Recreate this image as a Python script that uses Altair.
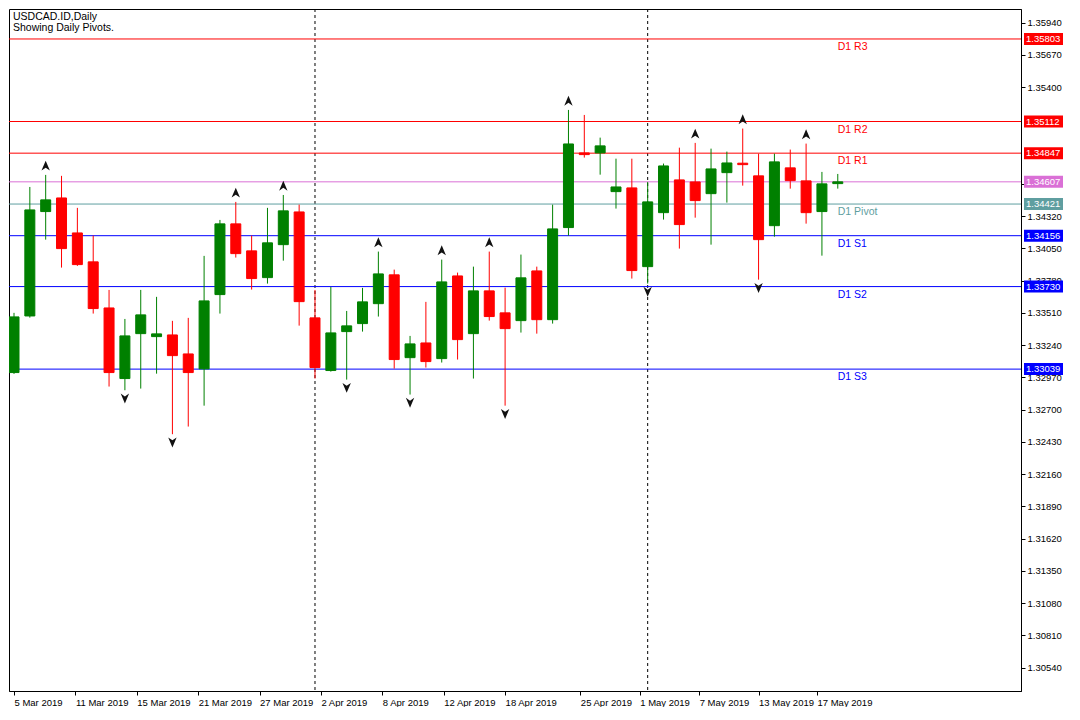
import altair as alt
import pandas as pd

# ---------------- data ----------------
dates = ["2019-03-05", "2019-03-06", "2019-03-07", "2019-03-08", "2019-03-11", "2019-03-12",
         "2019-03-13", "2019-03-14", "2019-03-15", "2019-03-18", "2019-03-19", "2019-03-20",
         "2019-03-21", "2019-03-22", "2019-03-25", "2019-03-26", "2019-03-27", "2019-03-28",
         "2019-03-29", "2019-04-01", "2019-04-02", "2019-04-03", "2019-04-04", "2019-04-05",
         "2019-04-08", "2019-04-09", "2019-04-10", "2019-04-11", "2019-04-12", "2019-04-15",
         "2019-04-16", "2019-04-17", "2019-04-18", "2019-04-22", "2019-04-23", "2019-04-24",
         "2019-04-25", "2019-04-26", "2019-04-29", "2019-04-30", "2019-05-01", "2019-05-02",
         "2019-05-03", "2019-05-06", "2019-05-07", "2019-05-08", "2019-05-09", "2019-05-10",
         "2019-05-13", "2019-05-14", "2019-05-15", "2019-05-16", "2019-05-17"]

opens = [1.33010, 1.33484, 1.34358, 1.34472, 1.34179, 1.33937, 1.33551, 1.32960, 1.33336, 1.33311,
         1.33325, 1.33166, 1.33041, 1.33663, 1.34255, 1.34029, 1.33805, 1.34081, 1.34355, 1.33468,
         1.33027, 1.33353, 1.33420, 1.33587, 1.33828, 1.33135, 1.33258, 1.33127, 1.33819, 1.33336,
         1.33694, 1.33510, 1.33445, 1.33861, 1.33453, 1.34224, 1.34849, 1.34849, 1.34525, 1.34556,
         1.33897, 1.34349, 1.34623, 1.34606, 1.34508, 1.34684, 1.34763, 1.34657, 1.34240, 1.34724,
         1.34615, 1.34358, 1.34592]

highs = [1.33510, 1.34564, 1.34665, 1.34657, 1.34389, 1.34157, 1.33702, 1.33459, 1.33702, 1.33644,
         1.33443, 1.33468, 1.33987, 1.34288, 1.34439, 1.34157, 1.34389, 1.34497, 1.34416, 1.33702,
         1.33727, 1.33526, 1.33719, 1.34023, 1.33872, 1.33317, 1.33602, 1.33956, 1.33847, 1.33897,
         1.34023, 1.33721, 1.33998, 1.33897, 1.34416, 1.35209, 1.35167, 1.34977, 1.34801, 1.34801,
         1.34606, 1.34760, 1.34893, 1.34933, 1.34885, 1.34860, 1.35053, 1.34843, 1.34843, 1.34877,
         1.34927, 1.34690, 1.34673]

lows = [1.32999, 1.33470, 1.34123, 1.33889, 1.33903, 1.33504, 1.32893, 1.32862, 1.32876, 1.33001,
        1.32494, 1.32558, 1.32733, 1.33504, 1.33973, 1.33705, 1.33755, 1.33947, 1.33403, 1.32960,
        1.33018, 1.32951, 1.33353, 1.33479, 1.33043, 1.32826, 1.33052, 1.33094, 1.33119, 1.32960,
        1.33445, 1.32733, 1.33345, 1.33336, 1.33420, 1.34157, 1.34810, 1.34667, 1.34383, 1.33797,
        1.33755, 1.34291, 1.34048, 1.34307, 1.34081, 1.34433, 1.34575, 1.33788, 1.34148, 1.34550,
        1.34257, 1.33989, 1.34550]

closes = [1.33476, 1.34372, 1.34456, 1.34048, 1.33914, 1.33546, 1.33010, 1.33317, 1.33493, 1.33334,
          1.33152, 1.33010, 1.33610, 1.34255, 1.34006, 1.33797, 1.34096, 1.34364, 1.33604, 1.33052,
          1.33342, 1.33401, 1.33602, 1.33836, 1.33119, 1.33250, 1.33102, 1.33769, 1.33286, 1.33694,
          1.33479, 1.33378, 1.33803, 1.33453, 1.34213, 1.34924, 1.34835, 1.34908, 1.34564, 1.33864,
          1.34439, 1.34740, 1.34249, 1.34450, 1.34715, 1.34765, 1.34751, 1.34123, 1.34774, 1.34617,
          1.34349, 1.34590, 1.34607]

# fractal markers (bar indices)
fractal_up = [2, 14, 17, 23, 27, 30, 35, 43, 46, 50]
fractal_down = [7, 10, 21, 25, 31, 40, 47]

# daily pivot levels
pivot_names = ["D1 R3", "D1 R2", "D1 R1", "D1 Pivot", "D1 S1", "D1 S2", "D1 S3"]
pivot_values = [1.35803, 1.35112, 1.34847, 1.34421, 1.34156, 1.33730, 1.33039]
pivot_colors = ["#FF0000", "#FF0000", "#FF0000", "#5F9EA0", "#0000FF", "#0000FF", "#0000FF"]
price_line = 1.34607
price_color = "#DA70D6"

# axis ticks (1.35130 and 1.34860 are fully covered by the level boxes in the original)
y_ticks = [1.30540, 1.30810, 1.31080, 1.31350, 1.31620, 1.31890, 1.32160, 1.32430, 1.32700,
           1.32970, 1.33240, 1.33510, 1.33780, 1.34050, 1.34320, 1.34590,
           1.35400, 1.35670, 1.35940]
x_tick_pos = [0, 3.875, 7.75, 11.625, 15.5, 19.375, 23.25, 27.125, 31.0, 35.75, 39.5, 43.25, 47.0, 50.6875]
x_tick_labels = ["5 Mar 2019", "11 Mar 2019", "15 Mar 2019", "21 Mar 2019", "27 Mar 2019",
                 "2 Apr 2019", "8 Apr 2019", "12 Apr 2019", "18 Apr 2019", "25 Apr 2019",
                 "1 May 2019", "7 May 2019", "13 May 2019", "17 May 2019"]

title_lines = "USDCAD.ID,Daily\nShowing Daily Pivots."

# ---------------- tables ----------------
df = pd.DataFrame({"date": dates, "open": opens, "high": highs, "low": lows, "close": closes})
df["i"] = range(len(df))
df["dir"] = ["up" if c >= o else "down" for o, c in zip(opens, closes)]
df["month"] = [d[:7] for d in dates]
sep = df[(df["month"] != df["month"].shift()) & (df["i"] > 0)]

up_df = df[df["i"].isin(fractal_up)]
dn_df = df[df["i"].isin(fractal_down)]

levels = pd.DataFrame({"name": pivot_names + [""],
                       "value": pivot_values + [price_line],
                       "color": pivot_colors + [price_color]})
levels["label"] = [f"{v:.5f}" for v in levels["value"]]
levels["i"] = len(dates) - 1

# ---------------- chart ----------------
W, H = 1012, 682
FONT = "Liberation Sans"

xs = alt.Scale(domain=[0, W / 16.0], nice=False, zero=False)
ys = alt.Scale(domain=[1.36054 - H / 11944.0, 1.36054], nice=False, zero=False)

pos_list = "[" + ",".join(repr(p) for p in x_tick_pos) + "]"
lab_list = "[" + ",".join("'" + s + "'" for s in x_tick_labels) + "]"
xaxis = alt.Axis(values=x_tick_pos, labelExpr=f"{lab_list}[indexof({pos_list}, datum.value)]",
                 title=None, grid=False, orient="bottom", labelAlign="left", labelBaseline="top",
                 tickSize=4, labelPadding=2, labelFlush=False, labelOverlap=False)
yaxis = alt.Axis(values=y_ticks, format=".5f", title=None, grid=False, orient="right",
                 tickSize=4, labelPadding=2, labelOverlap=False, labelFlush=False)

X = alt.X("i:Q", scale=xs, axis=xaxis)
Y_LEVEL = alt.Y("value:Q", scale=ys, axis=yaxis)
updown = alt.Scale(domain=["up", "down"], range=["#008000", "#FF0000"])
col = alt.Color("dir:N", scale=updown, legend=None)
strk = alt.Stroke("dir:N", scale=updown, legend=None)
lvl_stroke = alt.Stroke("color:N", scale=None, legend=None)
lvl_fill = alt.Fill("color:N", scale=None, legend=None)

lv = alt.Chart(levels)

separators = alt.Chart(sep).mark_rule(color="black", strokeDash=[3, 3], strokeWidth=1).encode(x=X)

level_rules = lv.mark_rule(strokeWidth=1).encode(
    x=alt.value(0), x2=alt.value(W), y=Y_LEVEL, stroke=lvl_stroke)
level_text = lv.mark_text(align="left", baseline="top", dy=3, font=FONT, fontSize=10.5).encode(
    x=X, y=Y_LEVEL, text="name:N", fill=lvl_fill)

wicks = alt.Chart(df).mark_rule(strokeWidth=1, clip=True).encode(
    x=X, y=alt.Y("low:Q", scale=ys, axis=yaxis), y2="high:Q", stroke=strk)
bodies = alt.Chart(df).mark_bar(size=10, strokeWidth=1, clip=True).encode(
    x=X, y=alt.Y("open:Q", scale=ys, axis=yaxis), y2="close:Q", color=col, stroke=strk)

up_shape = "M0,-1 L0.8,0.9 L0,0.35 L-0.8,0.9 Z"
dn_shape = "M0,1 L0.8,-0.9 L0,-0.35 L-0.8,-0.9 Z"
up_marks = alt.Chart(up_df).mark_point(shape=up_shape, filled=True, color="#111111", size=110,
                                       yOffset=-9, opacity=1).encode(
    x=X, y=alt.Y("high:Q", scale=ys, axis=yaxis))
dn_marks = alt.Chart(dn_df).mark_point(shape=dn_shape, filled=True, color="#111111", size=110,
                                       yOffset=8, opacity=1).encode(
    x=X, y=alt.Y("low:Q", scale=ys, axis=yaxis))

box_rect = lv.mark_rect(yOffset=-6, y2Offset=6, clip=False).encode(
    x=alt.value(W + 3), x2=alt.value(W + 42), y=Y_LEVEL, y2=alt.Y2("value:Q"), fill=lvl_fill)
box_text = lv.mark_text(align="left", baseline="middle", color="white", font=FONT,
                        fontSize=9.5, clip=False).encode(
    x=alt.value(W + 5), y=Y_LEVEL, text="label:N")

title = alt.Chart(pd.DataFrame({"t": [title_lines]})).mark_text(
    align="left", baseline="top", font=FONT, fontSize=10.5, lineBreak="\n", lineHeight=11,
    color="black").encode(x=alt.value(4), y=alt.value(3), text="t:N")

chart = alt.layer(
    separators, level_rules, level_text, wicks, bodies, up_marks, dn_marks,
    box_rect, box_text, title
).resolve_scale(
    color="independent", stroke="independent", fill="independent"
).properties(
    width=W, height=H, padding={"left": 0, "top": 0, "right": 0, "bottom": 0}, background="white"
).configure_view(
    stroke="black", strokeWidth=1
).configure_axis(
    labelFont=FONT, labelFontSize=9.5, labelColor="black", domainColor="black",
    tickColor="black", domainWidth=1, tickWidth=1
)

chart.save("out.html", embed_options={"renderer": "svg", "actions": False})
